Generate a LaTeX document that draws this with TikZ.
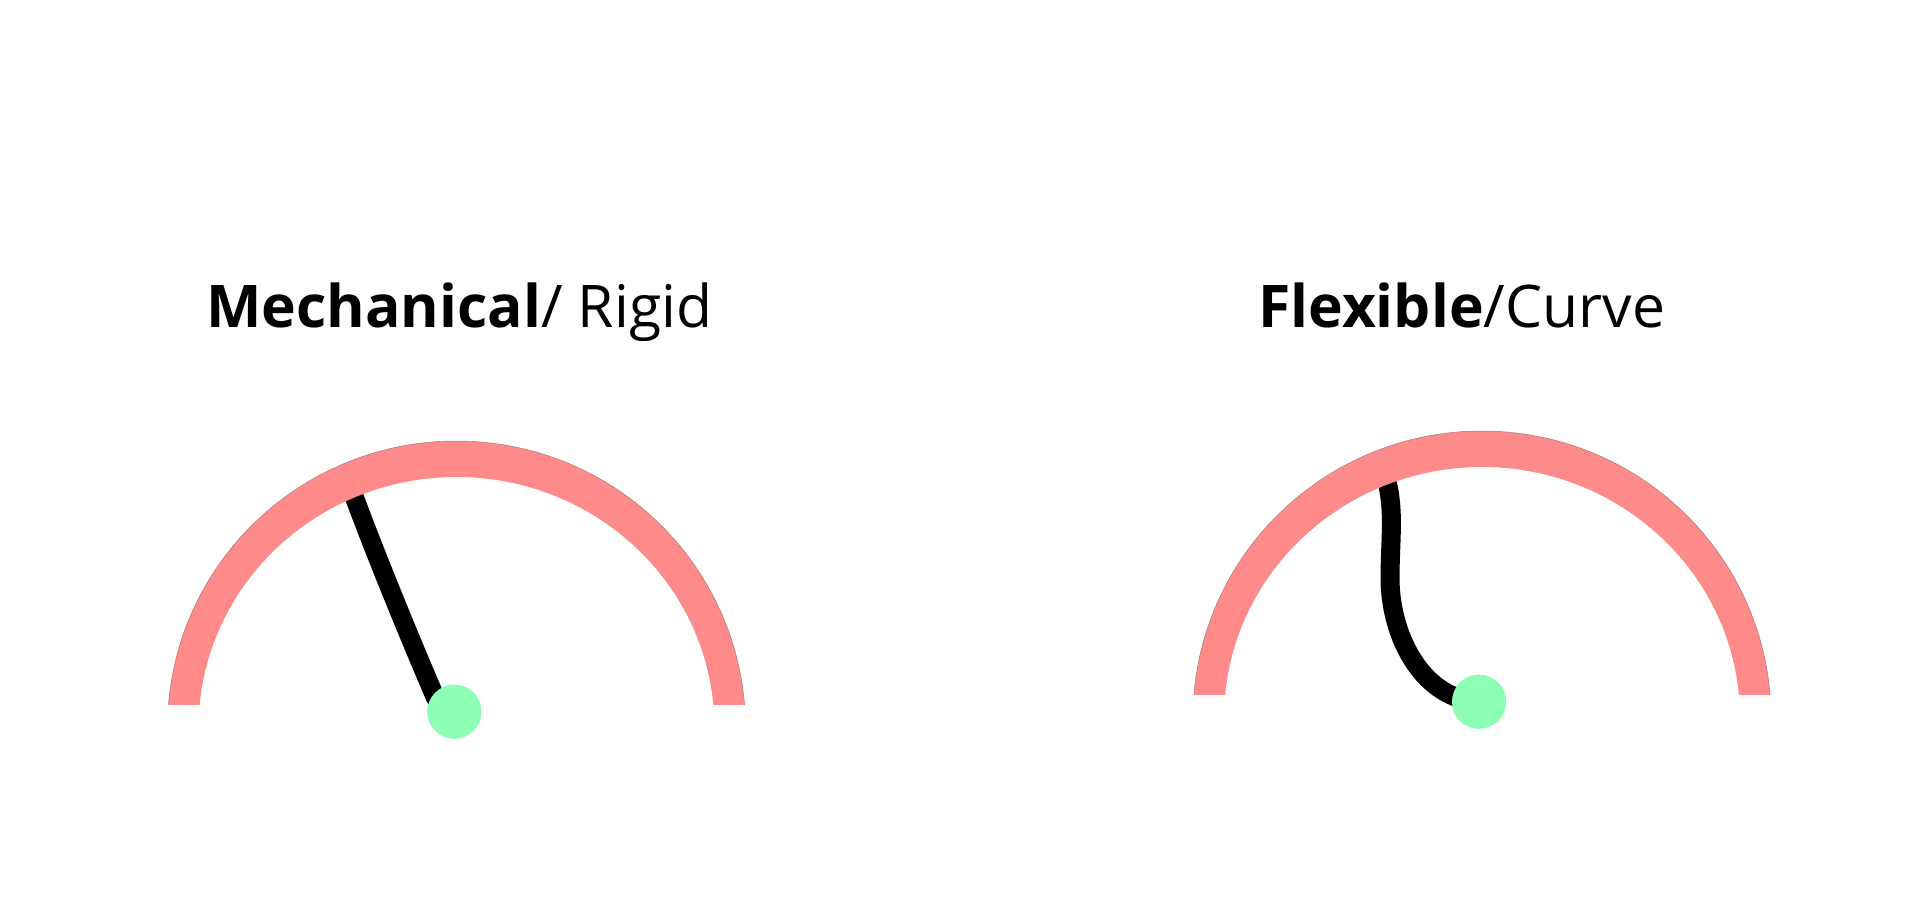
\documentclass[tikz,border=0pt]{standalone}
\usepackage{fontspec}
\setmainfont{Open Sans}
\definecolor{gaugepink}{RGB}{255,138,138}
\definecolor{gaugeedge}{RGB}{170,120,120}
\definecolor{pivotgreen}{RGB}{140,255,180}
\tikzset{
  gaugeband/.style={fill=gaugepink, draw=none},
  gaugerim/.style={draw=gaugeedge, line width=0.5pt},
  needle/.style={draw=black, line width=19pt, line cap=butt, line join=round},
  pivot/.style={circle, fill=pivotgreen, draw=none, minimum size=54pt, inner sep=0pt},
  titletext/.style={anchor=base west, inner sep=0pt, font=\fontsize{58.8}{70}\selectfont}
}
\begin{document}
\begin{tikzpicture}[x=1pt,y=1pt]
\useasboundingbox (0,0) rectangle (1920,906);

% ---------- left gauge ----------
\node[pivot] (pivL) at (454.3,194.3) {};
\coordinate (tipL) at (351.5,416.5);
\draw[needle] (tipL) .. controls (376,350) and (409,270) .. (435,209.3)
  .. controls (440,200) and (446,197) .. (pivL.center);
\begin{scope}[shift={(456.5,178)}]
  \fill[gaugeband] (175.4:289 and 287) arc[start angle=175.4, end angle=4.6, x radius=289, y radius=287]
    -- (5.26:258 and 251) arc[start angle=5.26, end angle=174.74, x radius=258, y radius=251] -- cycle;
  \draw[gaugerim] (175.4:289 and 287) arc[start angle=175.4, end angle=4.6, x radius=289, y radius=287];
\end{scope}
\node[pivot] at (pivL) {};
\node[titletext] (titleL) at (206,578) {\textbf{Mechanical}/ Rigid};

% ---------- right gauge ----------
\node[pivot] (pivR) at (1479,204.3) {};
\coordinate (tipR) at (1386,428);
\draw[needle] (tipR) .. controls (1395,396) and (1390,366) .. (1390,326)
  .. controls (1391,266) and (1425,206) .. (pivR.center);
\begin{scope}[shift={(1482,188)}]
  \fill[gaugeband] (175.4:289 and 287) arc[start angle=175.4, end angle=4.6, x radius=289, y radius=287]
    -- (5.26:258 and 251) arc[start angle=5.26, end angle=174.74, x radius=258, y radius=251] -- cycle;
  \draw[gaugerim] (175.4:289 and 287) arc[start angle=175.4, end angle=4.6, x radius=289, y radius=287];
\end{scope}
\node[pivot] at (pivR) {};
\node[titletext] (titleR) at (1258,578) {\textbf{Flexible}/Curve};
\end{tikzpicture}
\end{document}
